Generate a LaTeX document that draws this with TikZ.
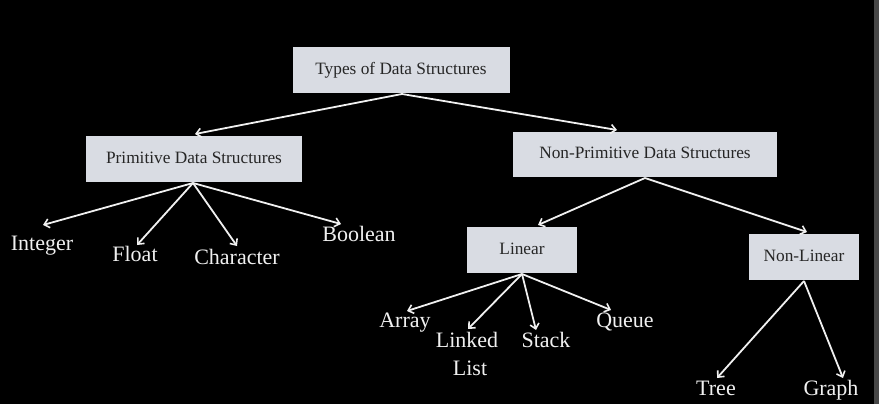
\documentclass[tikz,border=0pt]{standalone}
\usepackage{fontspec}
\setmainfont{Liberation Serif}
\usetikzlibrary{arrows.meta}
\definecolor{boxfill}{HTML}{D9DCE3}
\definecolor{boxtext}{HTML}{262626}
\definecolor{wht}{HTML}{F0F0F0}
\tikzset{
  box/.style={draw=none, fill=boxfill, text=boxtext, inner sep=0pt,
    font=\fontsize{17.3}{20}\selectfont, text height=12pt, text depth=3.5pt},
  lbl/.style={text=wht, inner sep=0pt, anchor=base, font=\fontsize{22}{28}\selectfont},
  arr/.style={draw=wht, line width=1.8pt, -{Straight Barb[length=5pt,width=9pt,line width=1.6pt]}}
}
\begin{document}
\begin{tikzpicture}[x=1pt,y=-1pt]
\fill[black] (0,0) rectangle (879,404);
\useasboundingbox (0,0) rectangle (879,404);
\fill[black!72] (874,0) rectangle (879,404);
% boxes
\node[box, minimum width=217pt, minimum height=46pt] (types) at (401,70) {Types of Data Structures};
\node[box, minimum width=216pt, minimum height=46pt] (prim) at (194,159) {Primitive Data Structures};
\node[box, minimum width=264pt, minimum height=45pt] (nonprim) at (645,154.5) {Non-Primitive Data Structures};
\node[box, minimum width=110pt, minimum height=46pt] (lin) at (522,250) {Linear};
\node[box, minimum width=110pt, minimum height=46pt] (nonlin) at (804,257) {Non-Linear};
% labels
\node[lbl] (integer) at (42,250) {Integer};
\node[lbl] (float) at (135,261) {Float};
\node[lbl] (character) at (237,264) {Character};
\node[lbl] (boolean) at (359,241) {Boolean};
\node[lbl] (array) at (405,327) {Array};
\node[lbl] (linked) at (467,347) {Linked};
\node[lbl] (list) at (470,375) {List};
\node[lbl] (stack) at (546,347) {Stack};
\node[lbl] (queue) at (625,327) {Queue};
\node[lbl] (tree) at (716,395) {Tree};
\node[lbl] (graph) at (831,395) {Graph};
% arrow tips
\coordinate (o1) at (402,94);
\coordinate (tPrim) at (195,134);
\coordinate (tNonPrim) at (617,130);
\coordinate (o2) at (193,183);
\coordinate (tInt) at (43,225);
\coordinate (tFloat) at (137,245);
\coordinate (tChar) at (237,246);
\coordinate (tBool) at (341,224);
\coordinate (o3) at (645,178);
\coordinate (tLin) at (538,225);
\coordinate (tNonLin) at (807,232);
\coordinate (o4) at (522,274);
\coordinate (tArray) at (407,311);
\coordinate (tLinked) at (468,329);
\coordinate (tStack) at (536,330);
\coordinate (tQueue) at (611,310);
\coordinate (o5) at (804,281);
\coordinate (tTree) at (717,378);
\coordinate (tGraph) at (843,378);
% connectors
\draw[arr] (o1) -- (tPrim);
\draw[arr] (o1) -- (tNonPrim);
\draw[arr] (o2) -- (tInt);
\draw[arr] (o2) -- (tFloat);
\draw[arr] (o2) -- (tChar);
\draw[arr] (o2) -- (tBool);
\draw[arr] (o3) -- (tLin);
\draw[arr] (o3) -- (tNonLin);
\draw[arr] (o4) -- (tArray);
\draw[arr] (o4) -- (tLinked);
\draw[arr] (o4) -- (tStack);
\draw[arr] (o4) -- (tQueue);
\draw[arr] (o5) -- (tTree);
\draw[arr] (o5) -- (tGraph);
\end{tikzpicture}
\end{document}
